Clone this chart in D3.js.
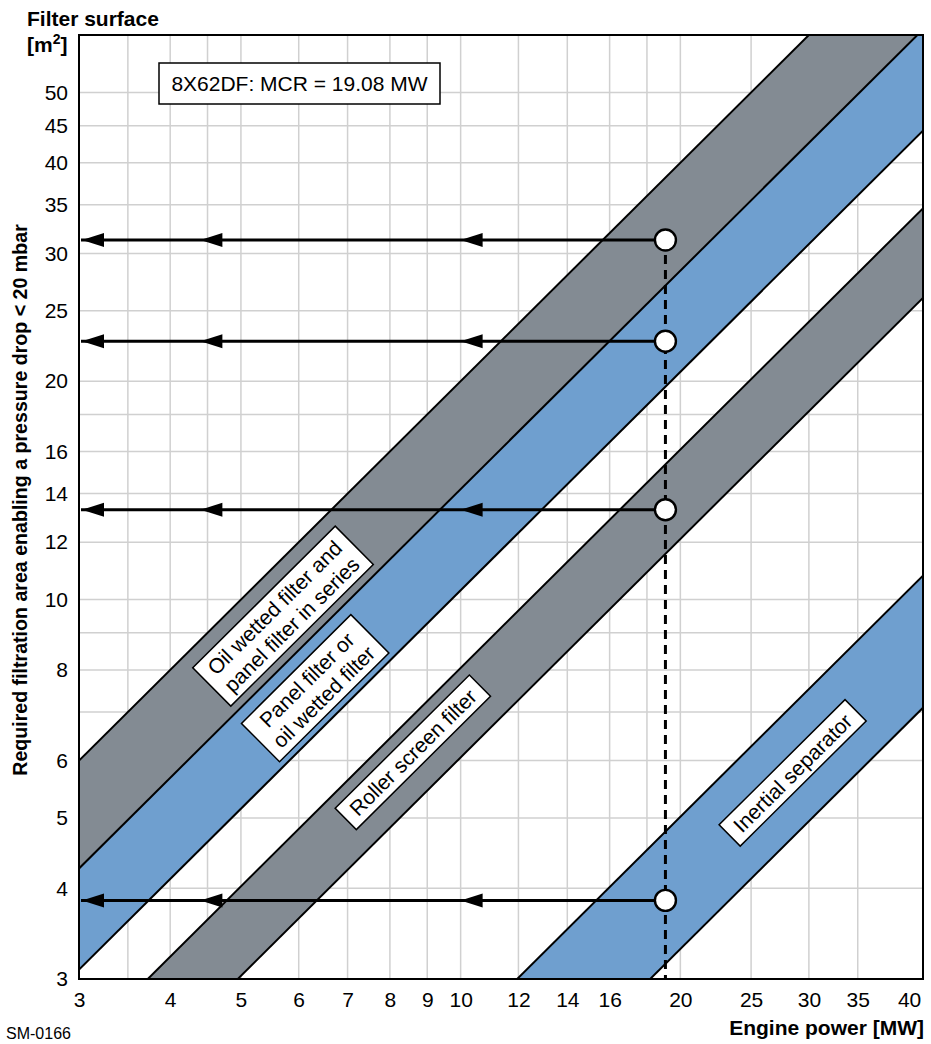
<!DOCTYPE html>
<html>
<head>
<meta charset="utf-8">
<script src="https://cdn.jsdelivr.net/npm/d3@7"></script>
<style>
  html, body { margin: 0; padding: 0; background: #fff; }
  svg { display: block; font-family: "Liberation Sans", Arial, Helvetica, sans-serif; }
</style>
</head>
<body>
<svg id="chart" width="931" height="1044"></svg>
<script>
// ---------------- data ----------------
const xDomain = [3, 43];
const yDomain = [3, 60];
const xTicks = [3, 4, 5, 6, 7, 8, 9, 10, 12, 14, 16, 20, 25, 30, 35, 40];
const xGrid = [3.5, 4, 4.5, 5, 6, 7, 8, 9, 10, 12, 14, 16, 18, 20, 25, 30, 35];
const yTicks = [3, 4, 5, 6, 8, 10, 12, 14, 16, 20, 25, 30, 35, 40, 45, 50];
const yGrid = [4, 5, 6, 7, 8, 9, 10, 12, 14, 16, 18, 20, 25, 30, 35, 40, 45, 50];

// filter bands: surface = coefficient * engine power
const bandNames = ["Oil wetted filter and panel filter in series", "Panel filter or oil wetted filter", "Roller screen filter", "Inertial separator"];
const bandUpper = [2.0, 1.42, 0.805, 0.251];
const bandLower = [1.42, 1.03, 0.606, 0.165];
const bandColors = ["#838b93", "#6f9fcf", "#838b93", "#6f9fcf"];

// label boxes: text lines and anchor point (engine power, surface)
const labelLines = [
  ["Oil wetted filter and", "panel filter in series"],
  ["Panel filter or", "oil wetted filter"],
  ["Roller screen filter"],
  ["Inertial separator"]
];
const labelX = [5.71, 6.32, 8.6, 28.5];
const labelY = [9.49, 7.55, 6.16, 5.77];

// operating point
const mcrPower = 19.08;
const pointSurface = [31.3, 22.7, 13.3, 3.85];
const arrowTips = [3, 4.4, 10];
const mcrText = "8X62DF: MCR = 19.08 MW";

// ---------------- layout ----------------
const L = 79, R = 923, T = 35, B = 979;
const svg = d3.select("#chart");
const x = d3.scaleLog().domain(xDomain).range([L, R]);
const y = d3.scaleLog().domain(yDomain).range([B, T]);

svg.append("defs").append("clipPath").attr("id", "plotclip")
  .append("rect").attr("x", L).attr("y", T).attr("width", R - L).attr("height", B - T);

const plot = svg.append("g").attr("clip-path", "url(#plotclip)");

// grid
plot.append("g").selectAll("line").data(xGrid).join("line")
  .attr("x1", d => x(d)).attr("x2", d => x(d)).attr("y1", T).attr("y2", B)
  .attr("stroke", "#d0d0d0").attr("stroke-width", 1.5);
plot.append("g").selectAll("line").data(yGrid).join("line")
  .attr("y1", d => y(d)).attr("y2", d => y(d)).attr("x1", L).attr("x2", R)
  .attr("stroke", "#d0d0d0").attr("stroke-width", 1.5);

// bands
const xs = [xDomain[0] / 3, xDomain[1] * 3];
plot.append("g").selectAll("path").data(bandNames).join("path")
  .attr("d", (d, i) => {
    const pts = [
      [xs[0], bandUpper[i] * xs[0]], [xs[1], bandUpper[i] * xs[1]],
      [xs[1], bandLower[i] * xs[1]], [xs[0], bandLower[i] * xs[0]]
    ];
    return "M" + pts.map(p => [x(p[0]), y(p[1])].join(",")).join("L") + "Z";
  })
  .attr("fill", (d, i) => bandColors[i]);

const boundaries = Array.from(new Set(bandUpper.concat(bandLower)));
plot.append("g").selectAll("line").data(boundaries).join("line")
  .attr("x1", x(xs[0])).attr("y1", d => y(d * xs[0]))
  .attr("x2", x(xs[1])).attr("y2", d => y(d * xs[1]))
  .attr("stroke", "#000").attr("stroke-width", 2);

// band labels
const angle = Math.atan2(y(20) - y(10), x(20) - x(10)) * 180 / Math.PI;
const lh = 24;
labelLines.forEach((lines, i) => {
  const g = plot.append("g")
    .attr("transform", `translate(${x(labelX[i])},${y(labelY[i])}) rotate(${angle})`);
  const rect = g.append("rect").attr("fill", "#fff").attr("stroke", "#000").attr("stroke-width", 1.5);
  const txt = g.append("g");
  let maxW = 0;
  lines.forEach((s, j) => {
    const t = txt.append("text")
      .attr("x", 0).attr("y", (j - (lines.length - 1) / 2) * lh)
      .attr("dy", "0.36em").attr("text-anchor", "middle")
      .attr("font-size", 21).attr("fill", "#000").text(s);
    maxW = Math.max(maxW, t.node().getComputedTextLength());
  });
  const w = maxW + 20, h = lines.length * lh + 6;
  rect.attr("x", -w / 2).attr("y", -h / 2).attr("width", w).attr("height", h);
});

// arrows
const arrows = plot.append("g");
pointSurface.forEach(py => {
  arrows.append("line")
    .attr("x1", x(mcrPower)).attr("x2", x(arrowTips[0]) + 2)
    .attr("y1", y(py)).attr("y2", y(py))
    .attr("stroke", "#000").attr("stroke-width", 3);
  arrowTips.forEach(tx => {
    const px = Math.max(x(tx), L + 3), yy = y(py);
    arrows.append("path")
      .attr("d", `M${px},${yy}L${px + 22},${yy - 7}L${px + 22},${yy + 7}Z`)
      .attr("fill", "#000");
  });
});

// dashed vertical
plot.append("line")
  .attr("x1", x(mcrPower)).attr("x2", x(mcrPower))
  .attr("y1", y(d3.max(pointSurface))).attr("y2", B)
  .attr("stroke", "#000").attr("stroke-width", 3).attr("stroke-dasharray", "9,6");

// points
plot.append("g").selectAll("circle").data(pointSurface).join("circle")
  .attr("cx", x(mcrPower)).attr("cy", d => y(d)).attr("r", 10.5)
  .attr("fill", "#fff").attr("stroke", "#000").attr("stroke-width", 2.4);

// border
svg.append("rect").attr("x", L).attr("y", T).attr("width", R - L).attr("height", B - T)
  .attr("fill", "none").attr("stroke", "#000").attr("stroke-width", 2);

// axes
const xAxis = svg.append("g").attr("transform", `translate(0,${B})`)
  .call(d3.axisBottom(x).tickValues(xTicks).tickFormat(d3.format("d")).tickSize(0).tickPadding(13));
const yAxis = svg.append("g").attr("transform", `translate(${L},0)`)
  .call(d3.axisLeft(y).tickValues(yTicks).tickFormat(d3.format("d")).tickSize(0).tickPadding(11));
[xAxis, yAxis].forEach(a => {
  a.select(".domain").remove();
  a.selectAll("text").attr("font-size", 21).attr("fill", "#000")
    .attr("font-family", "\"Liberation Sans\", Arial, sans-serif");
});
// last x label sits near the right frame edge
xAxis.selectAll(".tick text").filter(d => d === xTicks[xTicks.length - 1]).attr("dx", 9);

// MCR box
const mcr = svg.append("g");
mcr.append("rect").attr("x", 159).attr("y", 63).attr("width", 281).attr("height", 41)
  .attr("fill", "#fff").attr("stroke", "#000").attr("stroke-width", 1.5);
mcr.append("text").attr("x", 299.5).attr("y", 91).attr("text-anchor", "middle")
  .attr("font-size", 21).text(mcrText);

// titles
svg.append("text").attr("x", 27).attr("y", 26).attr("font-size", 21).attr("font-weight", "bold")
  .text("Filter surface");
const unit = svg.append("text").attr("x", 27).attr("y", 52).attr("font-size", 21).attr("font-weight", "bold");
unit.append("tspan").text("[m");
unit.append("tspan").attr("font-size", 14).attr("dy", -8).text("2");
unit.append("tspan").attr("dy", 8).text("]");

svg.append("text").attr("transform", "translate(27,500) rotate(-90)")
  .attr("text-anchor", "middle").attr("font-size", 19.6).attr("font-weight", "bold")
  .text("Required filtration area enabling a pressure drop < 20 mbar");

svg.append("text").attr("x", 924).attr("y", 1035).attr("text-anchor", "end")
  .attr("font-size", 21).attr("font-weight", "bold").text("Engine power [MW]");

svg.append("text").attr("x", 6).attr("y", 1039).attr("font-size", 16).text("SM-0166");
</script>
</body>
</html>
